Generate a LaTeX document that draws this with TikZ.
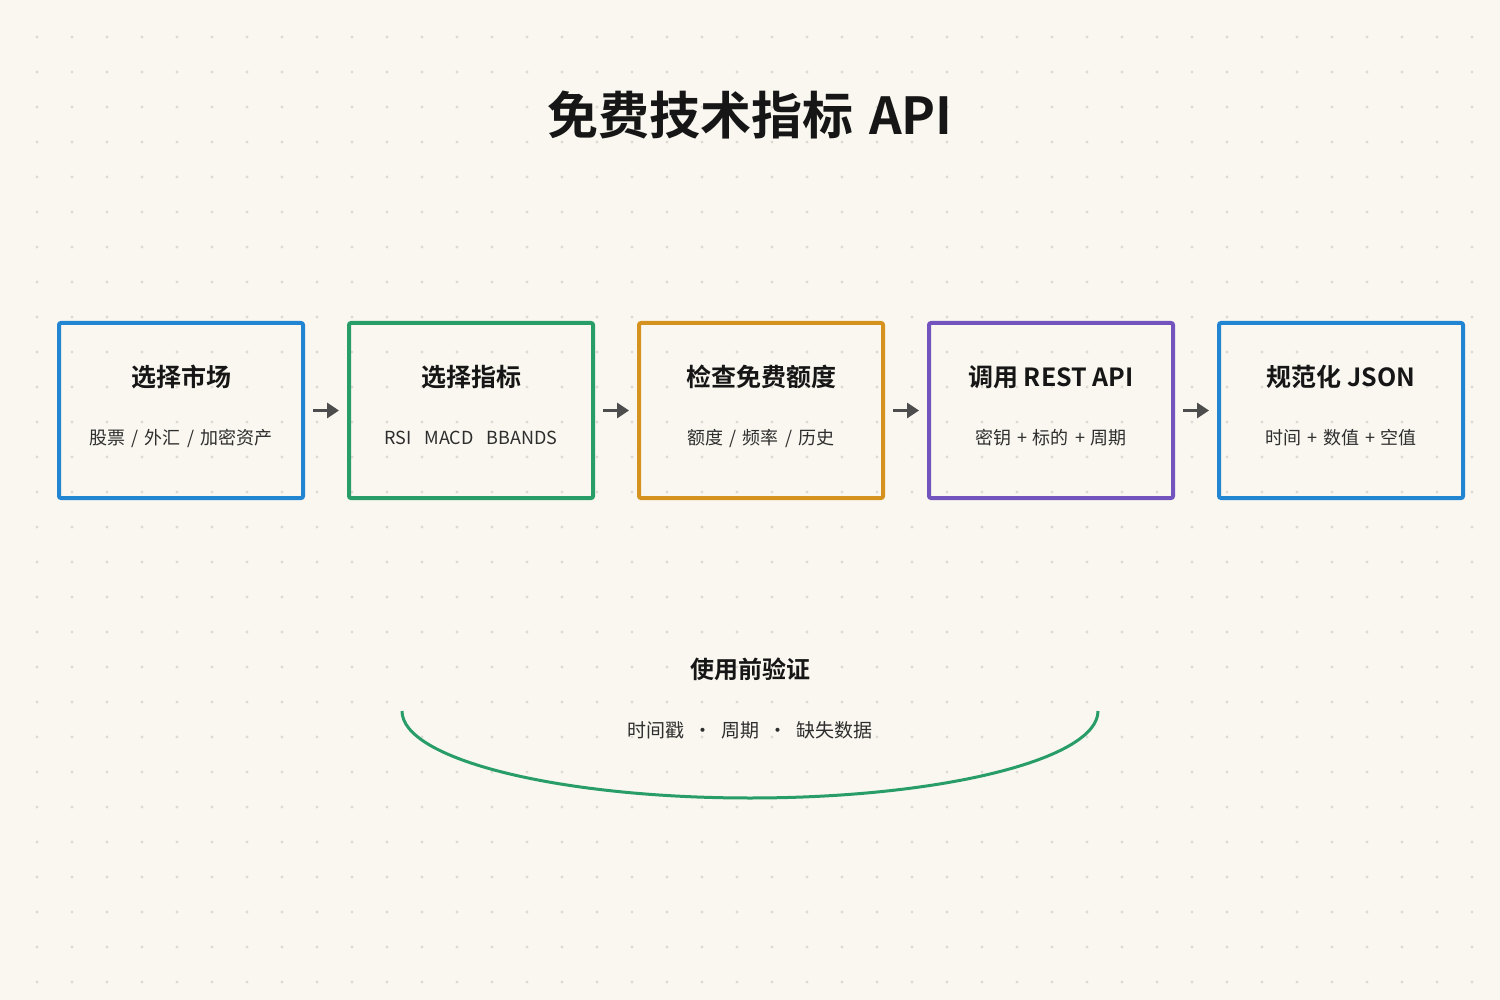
\documentclass[tikz,border=0pt]{standalone}
\usepackage{fontspec}
\setmainfont{Noto Sans CJK SC}[BoldFont={Noto Sans CJK SC Bold}]
\usetikzlibrary{arrows.meta}
\definecolor{paper}{HTML}{F9F7F0}
\definecolor{griddot}{HTML}{DDDAD3}
\definecolor{ink}{HTML}{161616}
\definecolor{subink}{HTML}{2E2E2E}
\definecolor{flowgray}{HTML}{4D4D4D}
\definecolor{cblue}{HTML}{2285D2}
\definecolor{cgreen}{HTML}{289D68}
\definecolor{corange}{HTML}{D6921E}
\definecolor{cpurple}{HTML}{7354BE}
\newcommand{\gap}{\hspace{6pt}}

\begin{document}
\begin{tikzpicture}[x=1pt,y=-1pt]
\tikzstyle{stepbox}=[draw,line width=4pt,rounded corners=2pt,minimum width=244pt,minimum height=175pt,inner sep=0pt]
\tikzstyle{headtxt}=[text=ink,font=\fontsize{25}{30}\selectfont\bfseries,inner sep=0pt]
\tikzstyle{subtxt}=[text=subink,font=\fontsize{18}{22}\selectfont,inner sep=0pt]
\tikzstyle{flow}=[flowgray,line width=3pt,-{Triangle[length=12pt,width=15pt]},shorten <=8pt,shorten >=8pt]
% background and dot grid
\fill[paper] (0,0) rectangle (1500,1000);
\useasboundingbox (0,0) rectangle (1500,1000);
\foreach \i in {0,...,41}
  \foreach \j in {0,...,27}
    \fill[griddot] (37+35*\i,37+35*\j) circle (1.6);
\node[text=ink,font=\fontsize{51}{61}\selectfont\bfseries,inner sep=0pt] (title) at (750,115) {免费技术指标\hspace{16pt}API};
\foreach \name/\x/\col/\head/\sub in {
	market/181/cblue/{选择市场}/{股票\gap{}/\gap{}外汇\gap{}/\gap{}加密资产},
	indicator/471/cgreen/{选择指标}/{RSI\hspace{13pt}MACD\hspace{13pt}BBANDS},
	quota/761/corange/{检查免费额度}/{额度\gap{}/\gap{}频率\gap{}/\gap{}历史},
	rest/1051/cpurple/{调用 REST API}/{密钥\gap{}+\gap{}标的\gap{}+\gap{}周期},
	json/1341/cblue/{规范化 JSON}/{时间\gap{}+\gap{}数值\gap{}+\gap{}空值}}
{
	\node[stepbox,draw=\col] (\name) at (\x,410.5) {};
	\node[headtxt] (\name-head) at (\x,377) {\head};
	\node[subtxt] (\name-sub) at (\x,438) {\sub};
}
\foreach \a/\b in {market/indicator,indicator/quota,quota/rest,rest/json}
	\draw[flow] (\a) -- (\b);
\node[text=ink,font=\fontsize{24}{29}\selectfont\bfseries,inner sep=0pt] (check) at (750,669) {使用前验证};
\node[subtxt,font=\fontsize{19}{23}\selectfont] (checklist) at (750,730) {时间戳\hspace{9pt}•\hspace{9pt}周期\hspace{9pt}•\hspace{9pt}缺失数据};
\draw[cgreen,line width=3pt] (402,711) arc[start angle=180,end angle=0,x radius=348,y radius=87];
\end{tikzpicture}
\end{document}
